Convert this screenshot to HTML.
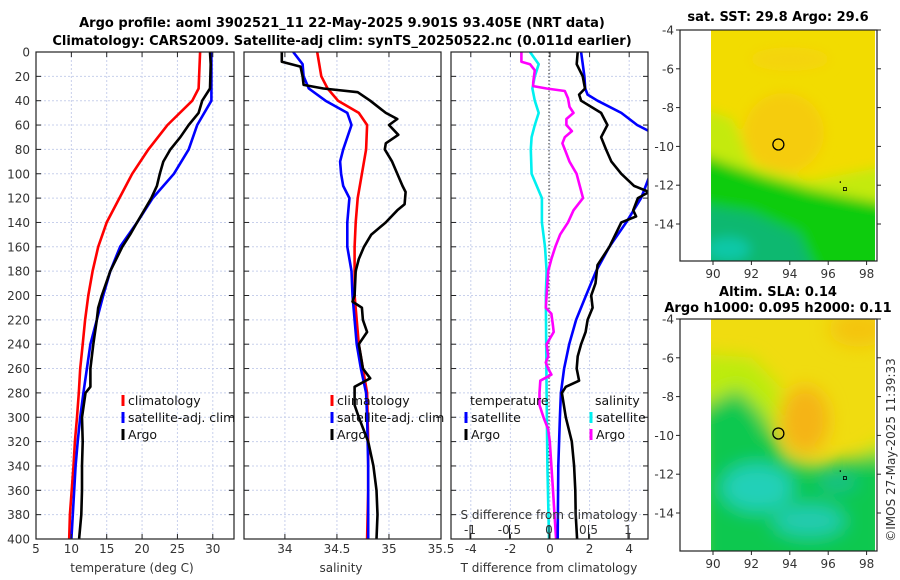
<!DOCTYPE html>
<html><head><meta charset="utf-8">
<style>
html,body{margin:0;padding:0;background:#fff;}
svg{display:block;font-family:"DejaVu Sans","Liberation Sans",sans-serif;}
.t{font-size:12px;fill:#333;}
.ttl{font-size:13px;font-weight:bold;fill:#000;}
.lg{font-size:12.5px;fill:#111;}
</style></head>
<body>
<svg id="fig" width="900" height="580" viewBox="0 0 900 580" xmlns="http://www.w3.org/2000/svg">
<defs>
<filter id="blur1" x="-10%" y="-10%" width="120%" height="120%"><feGaussianBlur stdDeviation="6"/></filter>
<filter id="blur2" x="-10%" y="-10%" width="120%" height="120%"><feGaussianBlur stdDeviation="9"/></filter>
<clipPath id="clipM1"><rect x="711" y="30" width="164" height="231"/></clipPath>
<clipPath id="clipM2"><rect x="711" y="319" width="164" height="232"/></clipPath>
</defs>
<text class="ttl" x="342" y="27" text-anchor="middle">Argo profile: aoml 3902521_11 22-May-2025 9.901S 93.405E (NRT data)</text>
<text class="ttl" x="342" y="45" text-anchor="middle">Climatology: CARS2009. Satellite-adj clim: synTS_20250522.nc (0.011d earlier)</text>
<g id="plots"></g>
</svg>
<script>
// ---------------- data ----------------
const depthTicks = [0,20,40,60,80,100,120,140,160,180,200,220,240,260,280,300,320,340,360,380,400];
const tempTicks = [5,10,15,20,25,30];
const salTicks = [34,34.5,35,35.5];
const tdTicks = [-4,-2,0,2,4];
const sdTicks = [-1,-0.5,0,0.5,1];
const sdTickLabels = ["-1","-0.5","0","0.5","1"];

const climTdepth = [0,30,40,60,80,100,120,140,160,180,200,220,240,260,280,300,320,340,360,380,400];
const climT = [28.2,28.0,27.1,23.6,20.9,18.6,16.8,15.0,13.8,13.0,12.4,11.95,11.6,11.25,11.05,10.8,10.5,10.3,10.05,9.8,9.7];
const satTdepth = [0,40,60,80,100,120,140,160,180,200,220,240,260,280,300,320,340,360,380,400];
const satT = [29.8,29.8,27.8,26.6,24.5,21.5,19.3,16.9,15.5,14.5,13.6,12.7,12.2,11.7,11.25,10.9,10.6,10.4,10.2,10.0];
const argoTdepth = [0,10,30,40,50,60,70,80,90,100,110,120,140,150,160,180,200,210,220,240,260,275,280,300,320,340,360,380,400];
const argoT = [29.6,29.7,29.6,28.5,28.0,26.6,25.4,24.0,23.0,22.5,22.1,21.3,19.3,18.3,17.2,15.5,14.3,13.8,13.6,13.1,12.7,12.7,12.0,11.5,11.6,11.5,11.5,11.4,11.1];

const climSdepth = [0,20,30,40,50,60,80,100,120,140,160,200,240,280,320,360,400];
const climS = [34.31,34.35,34.41,34.51,34.71,34.79,34.78,34.74,34.70,34.68,34.67,34.67,34.71,34.79,34.80,34.80,34.79];
const satSdepth = [0,10,20,30,40,50,60,80,90,100,110,120,140,160,180,200,220,240,260,280,300,340,400];
const satS = [34.08,34.17,34.18,34.23,34.39,34.60,34.64,34.56,34.53,34.54,34.56,34.62,34.60,34.60,34.64,34.65,34.67,34.69,34.73,34.78,34.79,34.80,34.80];
const argoSdepth = [0,8,12,20,27,30,33,40,50,55,60,68,75,80,90,100,110,115,125,130,140,150,160,170,180,200,205,210,220,230,240,250,260,268,275,290,300,320,340,360,380,400];
const argoS = [33.97,33.97,34.15,34.17,34.18,34.37,34.70,34.82,34.97,35.08,35.00,35.09,34.97,34.96,35.03,35.08,35.13,35.16,35.15,35.08,34.97,34.83,34.76,34.71,34.68,34.67,34.65,34.74,34.75,34.79,34.71,34.73,34.75,34.82,34.67,34.67,34.71,34.80,34.85,34.88,34.89,34.88];

const satTDdepth = [0,20,30,35,40,50,60,65,103,120,140,160,180,200,220,240,260,280,300,340,400];
const satTD = [1.57,1.74,1.78,1.9,2.4,3.6,4.4,5.0,5.0,4.6,3.85,3.0,2.33,1.82,1.32,0.97,0.71,0.55,0.5,0.42,0.39];
const argoTDdepth = [0,10,20,30,35,40,50,60,70,80,90,100,110,115,120,130,135,140,160,175,190,200,210,220,230,240,250,260,270,275,280,300,320,340,360,380,400];
const argoTD = [1.4,1.35,1.65,1.77,1.47,1.57,2.58,2.9,2.58,2.83,3.1,3.6,4.25,5.0,4.44,4.2,4.35,3.6,3.0,2.4,2.3,2.08,2.15,1.9,1.8,1.57,1.4,1.35,1.47,0.8,0.6,0.8,1.1,1.22,1.28,1.3,1.37];
const satSDdepth = [0,10,20,30,40,50,60,70,80,100,120,140,160,180,200,280,340,400];
const satSD = [-0.24,-0.13,-0.18,-0.21,-0.18,-0.13,-0.18,-0.22,-0.23,-0.22,-0.09,-0.09,-0.05,-0.03,-0.04,-0.03,-0.02,0.0];
const argoSDdepth = [0,8,10,15,20,25,28,30,32,38,45,50,55,60,65,70,75,80,90,100,110,120,130,140,150,160,170,180,200,210,215,225,230,240,250,255,260,265,270,280,290,300,310,320,340,360,380,400];
const argoSD = [-0.35,-0.35,-0.24,-0.18,-0.19,-0.2,-0.2,-0.03,0.2,0.24,0.26,0.31,0.22,0.22,0.29,0.2,0.17,0.2,0.26,0.35,0.39,0.43,0.31,0.24,0.14,0.08,0.03,-0.01,-0.03,-0.04,0.03,0.05,0.06,-0.03,-0.01,-0.04,-0.01,0.03,-0.11,-0.12,-0.12,-0.07,-0.01,0.01,0.03,0.05,0.07,0.09];

const mapLonTicks = [90,92,94,96,98];
const mapLatTicks = [-4,-6,-8,-10,-12,-14];
const argoLon = 93.405, argoLat = -9.901;

// ---------------- axis functions ----------------
const NS = "http://www.w3.org/2000/svg";
const root = document.getElementById('plots');
function mk(tag, attrs, parent){ const e=document.createElementNS(NS,tag); for(const k in attrs) e.setAttribute(k,attrs[k]); (parent||root).appendChild(e); return e; }
const yTop=52, yBot=539;
const yD = d => yTop + d*(yBot-yTop)/400;
const P1 = {x0:36, x1:234, v0:5, v1:33};
const P2 = {x0:244, x1:441, v0:33.607, v1:35.5};
const P3 = {x0:451, x1:648, v0:-5.0, v1:4.95};
const xOf = (p,v) => p.x0 + (v-p.v0)*(p.x1-p.x0)/(p.v1-p.v0);
const xSD = v => 549 + v*79;

function grid(p, ticks, name){
  const g = mk('g',{});
  
  
  ticks.forEach(v=>{ const x=xOf(p,v); if(x>p.x0+1&&x<p.x1-1) mk('line',{x1:x,x2:x,y1:yTop,y2:yBot,stroke:'#c8d0ec','stroke-width':1,'stroke-dasharray':'2,2'},g); });
  depthTicks.forEach(d=>{ const y=yD(d); if(d>0&&d<400) mk('line',{x1:p.x0,x2:p.x1,y1:y,y2:y,stroke:'#c8d0ec','stroke-width':1,'stroke-dasharray':'2,2'},g); });
  return g;
}
function frame(p, ticks, name, labels){
  const g = mk('g',{});
  
  
  mk('rect',{x:p.x0,y:yTop,width:p.x1-p.x0,height:yBot-yTop,fill:'none',stroke:'#222','stroke-width':1.2},g);
  depthTicks.forEach(d=>{ const y=yD(d); mk('line',{x1:p.x0,x2:p.x0+5,y1:y,y2:y,stroke:'#222'},g); mk('line',{x1:p.x1-5,x2:p.x1,y1:y,y2:y,stroke:'#222'},g); });
  ticks.forEach((v,i)=>{ const x=xOf(p,v); mk('line',{x1:x,x2:x,y1:yBot-5,y2:yBot,stroke:'#222'},g); mk('line',{x1:x,x2:x,y1:yTop,y2:yTop+5,stroke:'#222'},g);
    const t=mk('text',{x:x,y:553,'text-anchor':'middle',class:'t'},g); t.textContent = labels? labels[i] : String(v); });
  return g;
}
function line(p, xs, ds, color, name, xf){
  const pts = xs.map((v,i)=> (xf? xf(v) : xOf(p,v)).toFixed(1)+','+yD(ds[i]).toFixed(1)).join(' ');
  const e = mk('polyline',{points:pts,fill:'none',stroke:color,'stroke-width':2.6,'stroke-linejoin':'round','clip-path':'url(#clip_'+p.id+')'});
  
  
  return e;
}
[P1,P2,P3].forEach((p,i)=>{ p.id='p'+i; const c=mk('clipPath',{id:'clip_p'+i}); mk('rect',{x:p.x0,y:yTop,width:p.x1-p.x0,height:yBot-yTop},c); });

// Panel 1: temperature
grid(P1, tempTicks, 'temperature');
line(P1, climT, climTdepth, '#ff0000', 'temperature-climatology-line');
line(P1, satT, satTdepth, '#0000ff', 'temperature-satellite-line');
line(P1, argoT, argoTdepth, '#000000', 'temperature-argo-line');
frame(P1, tempTicks, 'temperature');
depthTicks.forEach(d=>{ const t=mk('text',{x:30,y:yD(d)+4.5,'text-anchor':'end',class:'t'}); t.textContent=String(d);
  
   });
let xl = mk('text',{x:132,y:572,'text-anchor':'middle',class:'t','font-size':'13.5'}); xl.textContent='temperature (deg C)';



// Panel 2: salinity
grid(P2, salTicks, 'salinity');
line(P2, climS, climSdepth, '#ff0000', 'salinity-climatology-line');
line(P2, satS, satSdepth, '#0000ff', 'salinity-satellite-line');
line(P2, argoS, argoSdepth, '#000000', 'salinity-argo-line');
frame(P2, salTicks, 'salinity');
xl = mk('text',{x:341,y:572,'text-anchor':'middle',class:'t','font-size':'13.5'}); xl.textContent='salinity';



// Panel 3: differences
grid(P3, tdTicks, 'difference');
const zl = mk('line',{x1:549,x2:549,y1:yTop,y2:yBot,stroke:'#333','stroke-width':1,'stroke-dasharray':'1.5,2'});


line(P3, satSD, satSDdepth, '#00f0f0', 'salinity-diff-satellite-line', xSD);
line(P3, argoSD, argoSDdepth, '#ff00ff', 'salinity-diff-argo-line', xSD);
line(P3, satTD, satTDdepth, '#0000ff', 'temperature-diff-satellite-line');
line(P3, argoTD, argoTDdepth, '#000000', 'temperature-diff-argo-line');
frame(P3, tdTicks, 'difference');
sdTicks.forEach((v,i)=>{ const x=xSD(v); mk('line',{x1:x,x2:x,y1:yBot-14,y2:yBot,stroke:'#222'});
  const t=mk('text',{x:x,y:534,'text-anchor':'middle',class:'t'}); t.textContent=sdTickLabels[i];
  
   });
let st = mk('text',{x:549,y:519,'text-anchor':'middle',class:'t','font-size':'13'}); st.textContent='S difference from climatology';


xl = mk('text',{x:549,y:572,'text-anchor':'middle',class:'t','font-size':'13.5'}); xl.textContent='T difference from climatology';



// Legends
function legend(x, y, color, label, name){
  const g = mk('g',{});
  
  
  mk('line',{x1:x,x2:x,y1:y-10,y2:y+1,stroke:color,'stroke-width':3},g);
  const t = mk('text',{x:x+5,y:y,class:'lg'},g); t.textContent=label;
}
legend(123,405,'#ff0000','climatology','legend-temperature-climatology');
legend(123,422,'#0000ff','satellite-adj. clim','legend-temperature-satellite');
legend(123,439,'#000000','Argo','legend-temperature-argo');
legend(332,405,'#ff0000','climatology','legend-salinity-climatology');
legend(332,422,'#0000ff','satellite-adj. clim','legend-salinity-satellite');
legend(332,439,'#000000','Argo','legend-salinity-argo');
let lt = mk('text',{x:470,y:405,class:'lg'}); lt.textContent='temperature';


lt = mk('text',{x:595,y:405,class:'lg'}); lt.textContent='salinity';


legend(466,422,'#0000ff','satellite','legend-tdiff-satellite');
legend(466,439,'#000000','Argo','legend-tdiff-argo');
legend(591,422,'#00f0f0','satellite','legend-sdiff-satellite');
legend(591,439,'#ff00ff','Argo','legend-sdiff-argo');

// ---------------- maps ----------------
const mx = lon => 713 + (lon-90)*19.2;
const my1 = lat => 30 + (-4-lat)*19.4;
const my2 = lat => 319 + (-4-lat)*19.4;
function mapAxes(top, bottom, name){
  const g = mk('g',{});
  
  
  mk('rect',{x:680,y:top,width:197,height:bottom-top,fill:'none',stroke:'#222','stroke-width':1.2},g);
  mapLatTicks.forEach(lat=>{ const y = top + (-4-lat)*19.4; mk('line',{x1:680,x2:676,y1:y,y2:y,stroke:'#222'},g); mk('line',{x1:877,x2:881,y1:y,y2:y,stroke:'#222'},g);
    const t=mk('text',{x:674,y:y+4.5,'text-anchor':'end',class:'t'},g); t.textContent=String(lat); });
  mapLonTicks.forEach(lon=>{ const x=mx(lon); mk('line',{x1:x,x2:x,y1:bottom,y2:bottom+4,stroke:'#222'},g);
    const t=mk('text',{x:x,y:bottom+17,'text-anchor':'middle',class:'t'},g); t.textContent=String(lon); });
  const c = mk('circle',{cx:mx(argoLon),cy:top+(-4-argoLat)*19.4,r:5.5,fill:'none',stroke:'#000','stroke-width':1.3});
  
  
  mk('rect',{x:mx(96.87)-1.5,y:top+8.2*19.4-1.5,width:3,height:3,fill:'none',stroke:'#000','stroke-width':0.8});
  mk('rect',{x:mx(96.6),y:top+7.8*19.4,width:1.2,height:1.5,fill:'#000'});
}
// SST map
const m1 = mk('g',{'clip-path':'url(#clipM1)'});


mk('rect',{x:711,y:30,width:164,height:231,fill:'#f2dc00'},m1);
const m1b = mk('g',{filter:'url(#blur1)'},m1);
mk('ellipse',{cx:mx(93.7),cy:my1(-9.3),rx:40,ry:40,fill:'#f5cc08'},m1b);
mk('ellipse',{cx:mx(94),cy:my1(-5.5),rx:40,ry:12,fill:'#f4d408'},m1b);
mk('path',{d:`M700 ${my1(-8)} L${mx(91)} ${my1(-8.6)} L${mx(92)} ${my1(-11)} L${mx(95)} ${my1(-11.8)} L890 ${my1(-11)} L890 290 L700 290 Z`,fill:'#c4ea10'},m1b);
mk('path',{d:`M700 ${my1(-10.4)} L${mx(91)} ${my1(-11)} L${mx(92.5)} ${my1(-11.5)} L${mx(95)} ${my1(-12.2)} L${mx(97)} ${my1(-12.6)} L890 ${my1(-13)} L890 290 L700 290 Z`,fill:'#10cc10'},m1b);
mk('path',{d:`M700 ${my1(-13)} L${mx(92)} ${my1(-13.4)} L${mx(94.5)} ${my1(-14.5)} L${mx(96)} 300 L700 300 Z`,fill:'#10b870'},m1b);
mk('ellipse',{cx:mx(90.8),cy:my1(-15.3),rx:22,ry:12,fill:'#10c8a8'},m1b);
mapAxes(30,261,'sst-map');
let mt = mk('text',{x:778,y:21,'text-anchor':'middle',class:'ttl'}); mt.textContent='sat. SST: 29.8 Argo: 29.6';



// SLA map
const m2 = mk('g',{'clip-path':'url(#clipM2)'});


mk('rect',{x:711,y:319,width:164,height:232,fill:'#f0dc10'},m2);
const m2b = mk('g',{filter:'url(#blur2)'},m2);
mk('ellipse',{cx:mx(97.6),cy:my2(-4.5),rx:30,ry:18,fill:'#f4c410'},m2b);
mk('path',{d:`M700 ${my2(-5.8)} L${mx(92)} ${my2(-6)} L${mx(93.5)} ${my2(-7.5)} L${mx(93)} ${my2(-11)} L${mx(96.5)} ${my2(-11.8)} L890 ${my2(-10)} L890 600 L700 600 Z`,fill:'#bcec10'},m2b);
mk('ellipse',{cx:mx(94.8),cy:my2(-9.2),rx:24,ry:34,fill:'#f5b418'},m2b);
mk('path',{d:`M700 ${my2(-8.6)} L${mx(91.3)} ${my2(-7.6)} L${mx(92.5)} ${my2(-8.8)} L${mx(93.8)} ${my2(-11.2)} L${mx(95.2)} ${my2(-11.6)} L890 ${my2(-10.9)} L890 600 L700 600 Z`,fill:'#10c850'},m2b);
mk('ellipse',{cx:mx(92.3),cy:my2(-12.7),rx:36,ry:24,fill:'#20d0b8'},m2b);
mk('ellipse',{cx:mx(95),cy:my2(-14.4),rx:36,ry:16,fill:'#20ccb0'},m2b);
mk('ellipse',{cx:mx(96.5),cy:my2(-12.4),rx:20,ry:10,fill:'#18c08a'},m2b);
mapAxes(319,551,'sla-map');
mt = mk('text',{x:778,y:296,'text-anchor':'middle',class:'ttl'}); mt.textContent='Altim. SLA: 0.14';


mt = mk('text',{x:778,y:312,'text-anchor':'middle',class:'ttl'}); mt.textContent='Argo h1000: 0.095 h2000: 0.11';


mt = mk('text',{x:0,y:0,'text-anchor':'middle',class:'t','font-size':'12.5',transform:'translate(895,450) rotate(-90)'}); mt.textContent='©IMOS 27-May-2025 11:39:33';


</script>
</body></html>
